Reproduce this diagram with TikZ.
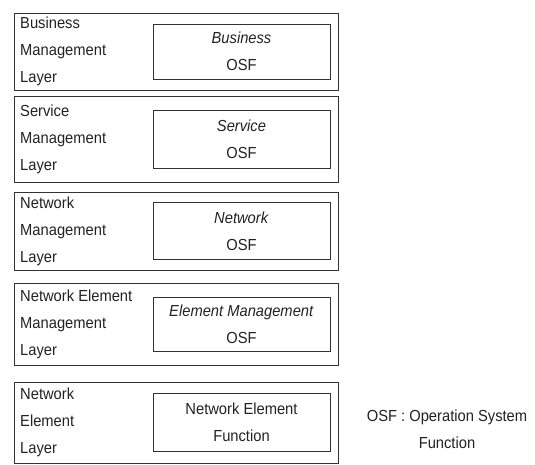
\documentclass[tikz,border=0pt]{standalone}
\usepackage{fontspec}
\setmainfont[FakeStretch=0.92]{Liberation Sans}
\usepackage{xcolor}
\usepackage{tikz}
\usetikzlibrary{positioning}
\definecolor{linea}{HTML}{333333}
\definecolor{texto}{HTML}{222222}
\newcommand{\osf}[1]{\textit{#1}\\OSF}
\tikzset{
  layerbox/.style={draw=linea,line width=0.8pt,minimum width=324pt,inner sep=0pt,outer sep=0pt},
  osfbox/.style={draw=linea,line width=0.8pt,minimum width=177pt,inner sep=0pt,outer sep=0pt,align=center,text=texto,font=\fontsize{16}{27}\selectfont},
  layertext/.style={align=left,inner sep=0pt,text=texto,font=\fontsize{16}{27}\selectfont},
}

\begin{document}
\begin{tikzpicture}[x=1pt,y=-1pt]
  \useasboundingbox (0,0) rectangle (535,465);
  % layers
  \node[layerbox,minimum height=77pt] (bml) at (176,51.5) {};
  \node[layerbox,minimum height=86pt] (sml) at (176,139) {};
  \node[layerbox,minimum height=78pt] (nml) at (176,231) {};
  \node[layerbox,minimum height=82pt] (eml) at (176,324) {};
  \node[layerbox,minimum height=81pt] (nel) at (176,422.5) {};
  \node[layertext,right=6pt of bml.west] (bmltxt) {Business\\Management\\Layer};
  \node[layertext,right=6pt of sml.west] (smltxt) {Service\\Management\\Layer};
  \node[layertext,right=6pt of nml.west] (nmltxt) {Network\\Management\\Layer};
  \node[layertext,right=6pt of eml.west] (emltxt) {Network Element\\Management\\Layer};
  \node[layertext,right=6pt of nel.west] (neltxt) {Network\\Element\\Layer};
  % functions
  \node[osfbox,minimum height=55pt,left=8pt of bml.east] (bosf) {\osf{Business}};
  \node[osfbox,minimum height=58pt,left=8pt of sml.east] (sosf) {\osf{Service}};
  \node[osfbox,minimum height=57pt,left=8pt of nml.east] (nosf) {\osf{Network}};
  \node[osfbox,minimum height=54pt,left=8pt of eml.east] (eosf) {\osf{Element Management}};
  \node[osfbox,minimum height=58pt,left=8pt of nel.east] (nef) {Network Element\\Function};
  \node[layertext,align=center] (nota) at (447,429) {OSF : Operation System\\Function};
\end{tikzpicture}
\end{document}
